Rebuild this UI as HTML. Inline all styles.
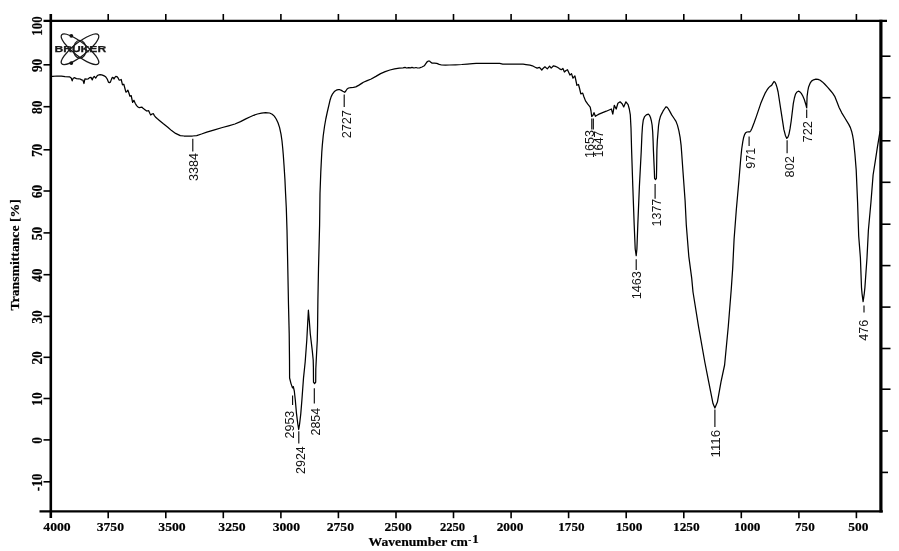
<!DOCTYPE html>
<html lang="en"><head><meta charset="utf-8"><title>FTIR spectrum</title>
<style>html,body{margin:0;padding:0;background:#fff}svg{display:block}</style></head>
<body>
<svg width="899" height="551" viewBox="0 0 899 551">
<rect width="899" height="551" fill="#fff"/>
<g stroke="#000" fill="none" stroke-linecap="butt">
<line x1="43.5" y1="20.8" x2="887" y2="20.8" stroke-width="2.2"/>
<line x1="39.5" y1="511.3" x2="882.8" y2="511.3" stroke-width="2.2"/>
<line x1="50.8" y1="14" x2="50.8" y2="518" stroke-width="2.6"/>
<line x1="880.9" y1="19.7" x2="880.9" y2="512.4" stroke-width="3.2"/>
<line x1="108.2" y1="14" x2="108.2" y2="20.8" stroke-width="1.6"/>
<line x1="108.2" y1="511.3" x2="108.2" y2="518.2" stroke-width="1.6"/>
<line x1="165.8" y1="14" x2="165.8" y2="20.8" stroke-width="1.6"/>
<line x1="165.8" y1="511.3" x2="165.8" y2="518.2" stroke-width="1.6"/>
<line x1="223.3" y1="14" x2="223.3" y2="20.8" stroke-width="1.6"/>
<line x1="223.3" y1="511.3" x2="223.3" y2="518.2" stroke-width="1.6"/>
<line x1="280.9" y1="14" x2="280.9" y2="20.8" stroke-width="1.6"/>
<line x1="280.9" y1="511.3" x2="280.9" y2="518.2" stroke-width="1.6"/>
<line x1="338.4" y1="14" x2="338.4" y2="20.8" stroke-width="1.6"/>
<line x1="338.4" y1="511.3" x2="338.4" y2="518.2" stroke-width="1.6"/>
<line x1="396.0" y1="14" x2="396.0" y2="20.8" stroke-width="1.6"/>
<line x1="396.0" y1="511.3" x2="396.0" y2="518.2" stroke-width="1.6"/>
<line x1="453.5" y1="14" x2="453.5" y2="20.8" stroke-width="1.6"/>
<line x1="453.5" y1="511.3" x2="453.5" y2="518.2" stroke-width="1.6"/>
<line x1="511.1" y1="14" x2="511.1" y2="20.8" stroke-width="1.6"/>
<line x1="511.1" y1="511.3" x2="511.1" y2="518.2" stroke-width="1.6"/>
<line x1="568.6" y1="14" x2="568.6" y2="20.8" stroke-width="1.6"/>
<line x1="568.6" y1="511.3" x2="568.6" y2="518.2" stroke-width="1.6"/>
<line x1="626.2" y1="14" x2="626.2" y2="20.8" stroke-width="1.6"/>
<line x1="626.2" y1="511.3" x2="626.2" y2="518.2" stroke-width="1.6"/>
<line x1="683.8" y1="14" x2="683.8" y2="20.8" stroke-width="1.6"/>
<line x1="683.8" y1="511.3" x2="683.8" y2="518.2" stroke-width="1.6"/>
<line x1="741.3" y1="14" x2="741.3" y2="20.8" stroke-width="1.6"/>
<line x1="741.3" y1="511.3" x2="741.3" y2="518.2" stroke-width="1.6"/>
<line x1="798.9" y1="14" x2="798.9" y2="20.8" stroke-width="1.6"/>
<line x1="798.9" y1="511.3" x2="798.9" y2="518.2" stroke-width="1.6"/>
<line x1="856.4" y1="14" x2="856.4" y2="20.8" stroke-width="1.6"/>
<line x1="856.4" y1="511.3" x2="856.4" y2="518.2" stroke-width="1.6"/>
<line x1="43.5" y1="64.8" x2="50.8" y2="64.8" stroke-width="1.6"/>
<line x1="43.5" y1="106.7" x2="50.8" y2="106.7" stroke-width="1.6"/>
<line x1="43.5" y1="149.8" x2="50.8" y2="149.8" stroke-width="1.6"/>
<line x1="43.5" y1="191" x2="50.8" y2="191" stroke-width="1.6"/>
<line x1="43.5" y1="232.9" x2="50.8" y2="232.9" stroke-width="1.6"/>
<line x1="43.5" y1="274.7" x2="50.8" y2="274.7" stroke-width="1.6"/>
<line x1="43.5" y1="316.4" x2="50.8" y2="316.4" stroke-width="1.6"/>
<line x1="43.5" y1="357.3" x2="50.8" y2="357.3" stroke-width="1.6"/>
<line x1="43.5" y1="398.5" x2="50.8" y2="398.5" stroke-width="1.6"/>
<line x1="43.5" y1="439.9" x2="50.8" y2="439.9" stroke-width="1.6"/>
<line x1="43.5" y1="481.8" x2="50.8" y2="481.8" stroke-width="1.6"/>
<line x1="880.9" y1="56.2" x2="890.5" y2="56.2" stroke-width="1.6"/>
<line x1="880.9" y1="97.7" x2="890.5" y2="97.7" stroke-width="1.6"/>
<line x1="880.9" y1="140.8" x2="890.5" y2="140.8" stroke-width="1.6"/>
<line x1="880.9" y1="182.3" x2="890.5" y2="182.3" stroke-width="1.6"/>
<line x1="880.9" y1="224.2" x2="890.5" y2="224.2" stroke-width="1.6"/>
<line x1="880.9" y1="265.6" x2="890.5" y2="265.6" stroke-width="1.6"/>
<line x1="880.9" y1="307.1" x2="890.5" y2="307.1" stroke-width="1.6"/>
<line x1="880.9" y1="348.5" x2="890.5" y2="348.5" stroke-width="1.6"/>
<line x1="880.9" y1="389.2" x2="890.5" y2="389.2" stroke-width="1.6"/>
<line x1="880.9" y1="431" x2="888" y2="431" stroke-width="1.6"/>
<line x1="880.9" y1="472.4" x2="888" y2="472.4" stroke-width="1.6"/>
</g>
<g font-family="'Liberation Serif', serif" font-weight="bold" font-size="13.4" fill="#000" stroke="#000" stroke-width="0.2">
<text x="43.3" y="531.1" textLength="27.4" lengthAdjust="spacingAndGlyphs">4000</text>
<text x="96.7" y="531.1" textLength="27.3" lengthAdjust="spacingAndGlyphs">3750</text>
<text x="158.3" y="531.1" textLength="27.4" lengthAdjust="spacingAndGlyphs">3500</text>
<text x="218.3" y="531.1" textLength="27.4" lengthAdjust="spacingAndGlyphs">3250</text>
<text x="272.7" y="531.1" textLength="27.3" lengthAdjust="spacingAndGlyphs">3000</text>
<text x="326.7" y="531.1" textLength="27.3" lengthAdjust="spacingAndGlyphs">2750</text>
<text x="384.6" y="531.1" textLength="27.1" lengthAdjust="spacingAndGlyphs">2500</text>
<text x="439.9" y="531.1" textLength="25.2" lengthAdjust="spacingAndGlyphs">2250</text>
<text x="496.7" y="531.1" textLength="26.7" lengthAdjust="spacingAndGlyphs">2000</text>
<text x="558.3" y="531.1" textLength="26.2" lengthAdjust="spacingAndGlyphs">1750</text>
<text x="615.7" y="531.1" textLength="26.7" lengthAdjust="spacingAndGlyphs">1500</text>
<text x="673.0" y="531.1" textLength="26.7" lengthAdjust="spacingAndGlyphs">1250</text>
<text x="734.0" y="531.1" textLength="26.4" lengthAdjust="spacingAndGlyphs">1000</text>
<text x="795.0" y="531.1" textLength="19.7" lengthAdjust="spacingAndGlyphs">750</text>
<text x="848.3" y="531.1" textLength="20.1" lengthAdjust="spacingAndGlyphs">500</text>
<text transform="translate(41.7,35.7) rotate(-90)" font-size="13.8" textLength="19.4" lengthAdjust="spacingAndGlyphs">100</text>
<text transform="translate(41.7,72.1) rotate(-90)" font-size="13.8" textLength="13.4" lengthAdjust="spacingAndGlyphs">90</text>
<text transform="translate(41.7,114.0) rotate(-90)" font-size="13.8" textLength="13.4" lengthAdjust="spacingAndGlyphs">80</text>
<text transform="translate(41.7,157.1) rotate(-90)" font-size="13.8" textLength="13.4" lengthAdjust="spacingAndGlyphs">70</text>
<text transform="translate(41.7,198.3) rotate(-90)" font-size="13.8" textLength="13.4" lengthAdjust="spacingAndGlyphs">60</text>
<text transform="translate(41.7,240.2) rotate(-90)" font-size="13.8" textLength="13.4" lengthAdjust="spacingAndGlyphs">50</text>
<text transform="translate(41.7,282.0) rotate(-90)" font-size="13.8" textLength="13.4" lengthAdjust="spacingAndGlyphs">40</text>
<text transform="translate(41.7,323.7) rotate(-90)" font-size="13.8" textLength="13.4" lengthAdjust="spacingAndGlyphs">30</text>
<text transform="translate(41.7,364.6) rotate(-90)" font-size="13.8" textLength="13.4" lengthAdjust="spacingAndGlyphs">20</text>
<text transform="translate(41.7,405.8) rotate(-90)" font-size="13.8" textLength="13.4" lengthAdjust="spacingAndGlyphs">10</text>
<text transform="translate(41.7,443.8) rotate(-90)" font-size="13.8" textLength="6.6" lengthAdjust="spacingAndGlyphs">0</text>
<text transform="translate(41.7,491.2) rotate(-90)" font-size="13.8" textLength="17.6" lengthAdjust="spacingAndGlyphs">-10</text>
</g>
<g font-family="'Liberation Serif', serif" font-weight="bold" font-size="13" fill="#000" stroke="#000" stroke-width="0.2">
<text transform="translate(18.7,310.5) rotate(-90)" textLength="111.3" lengthAdjust="spacingAndGlyphs">Transmittance [%]</text>
<text x="368.6" y="546.2" textLength="99.3" lengthAdjust="spacingAndGlyphs">Wavenumber cm</text>
<text x="468.3" y="543.2" font-size="9">-</text>
<text x="472.2" y="543.2" font-size="13">1</text>
</g>
<g fill="none" stroke="#1a1a1a" stroke-width="1.3">
<ellipse cx="80" cy="49.3" rx="23.3" ry="6.6" transform="rotate(38 80 49.3)"/>
<ellipse cx="80" cy="49.3" rx="23.3" ry="6.6" transform="rotate(-38 80 49.3)"/>
<ellipse cx="79.8" cy="49.3" rx="6.4" ry="8.9"/>
</g>
<circle cx="71.3" cy="35.8" r="1.9" fill="#111"/><circle cx="71.3" cy="63.1" r="1.9" fill="#111"/>
<text x="54.4" y="52.3" font-family="'Liberation Sans', sans-serif" font-weight="bold" font-size="8.4" textLength="51.8" lengthAdjust="spacingAndGlyphs" fill="#1a1a1a" stroke="#1a1a1a" stroke-width="0.25" >BRUKER</text>
<polyline points="51.5,76.4 52.7,76.4 57.0,76.0 61.4,76.1 65.0,76.6 69.5,76.8 71.2,78.0 72.2,80.8 73.0,78.6 74.2,77.7 76.5,78.6 78.9,78.8 80.2,79.0 81.6,79.9 82.9,80.0 84.0,83.5 84.9,78.8 86.5,79.2 88.3,78.8 89.6,77.6 91.0,77.4 92.3,79.9 93.2,77.5 94.3,76.4 95.7,78.1 97.0,76.0 98.3,75.0 100.0,74.6 101.7,74.8 103.7,75.6 105.7,76.8 107.2,79.0 108.4,82.1 109.4,82.6 110.4,82.1 111.4,79.4 112.4,77.4 113.2,77.6 114.0,79.0 114.9,77.4 115.8,76.4 116.8,76.6 117.8,77.4 119.1,80.1 120.2,80.0 121.2,79.5 122.5,84.8 123.8,84.2 124.8,88.0 125.9,92.2 126.9,91.4 127.9,90.2 128.9,93.0 129.9,96.2 131.2,95.6 131.9,99.0 132.6,102.3 133.9,100.3 135.2,103.2 136.6,105.6 138.0,107.0 139.3,107.7 142.0,107.2 143.4,108.6 144.6,109.4 146.7,111.0 148.7,110.7 149.8,113.2 150.7,115.0 152.0,114.0 153.4,113.7 154.4,115.6 155.4,117.0 157.4,118.8 159.4,120.4 163.4,123.8 167.8,127.3 171.6,130.6 175.6,133.4 180.3,135.6 184.0,136.0 188.1,136.0 192.5,136.0 196.7,135.6 201.5,134.0 206.8,132.1 214.5,129.8 222.4,127.5 228.6,125.8 234.9,124.0 240.5,121.6 245.8,118.9 249.8,117.0 253.7,115.3 257.5,114.0 261.5,113.1 265.6,112.7 269.6,113.0 272.2,114.2 274.3,116.1 276.2,119.0 278.0,122.8 279.6,127.6 281.0,134.2 282.0,141.0 282.7,148.0 283.3,155.0 284.0,165.0 284.9,179.0 285.6,194.0 286.3,208.0 287.0,230.0 287.8,268.6 288.5,305.0 289.2,333.4 289.5,360.0 289.6,378.0 291.0,383.6 292.5,387.9 293.3,386.6 294.3,391.0 295.3,400.0 296.5,413.6 297.8,424.0 298.7,429.5 299.6,424.0 300.8,413.6 301.9,400.0 303.5,378.1 305.2,361.8 306.8,340.0 307.6,325.0 308.4,310.2 309.4,322.0 310.3,334.0 312.3,350.9 313.2,360.0 313.4,367.2 313.5,382.2 314.6,383.7 315.7,382.2 315.8,369.0 316.6,353.0 317.3,340.0 317.6,325.0 317.9,300.0 318.5,268.6 319.6,225.0 320.0,193.6 320.8,171.8 321.8,152.0 322.3,145.4 323.2,136.0 324.5,126.5 325.8,119.0 327.3,112.0 330.0,100.3 331.2,96.6 332.6,93.8 334.3,91.6 336.3,90.2 338.2,89.7 339.9,89.7 341.4,90.4 342.8,91.3 344.7,92.3 345.8,91.0 347.1,89.0 348.6,88.0 350.8,87.6 353.4,87.3 355.8,86.9 358.6,85.4 361.7,83.4 363.4,82.3 367.2,80.6 371.2,79.0 375.9,76.4 380.6,73.6 385.2,71.6 389.9,70.0 394.6,68.9 399.3,68.1 403.0,67.8 405.0,67.4 406.5,68.0 408.7,67.6 410.5,67.9 412.0,67.3 414.0,68.0 416.0,67.5 417.6,68.0 419.6,67.8 422.0,67.0 424.3,65.8 425.8,63.6 427.4,61.5 428.5,61.0 429.7,61.1 430.8,62.3 432.1,63.1 434.4,63.2 436.8,63.4 439.2,64.3 441.5,65.0 445.4,65.1 449.3,65.0 455.5,64.8 461.7,64.5 467.2,64.1 472.7,63.7 476.2,63.4 488.0,63.3 499.7,63.4 502.8,64.2 513.0,64.2 523.1,64.2 526.0,64.6 528.0,64.9 530.0,65.2 532.4,65.8 534.7,67.0 537.1,68.1 539.5,67.3 541.8,70.0 543.3,68.2 544.9,66.8 547.3,68.9 549.6,66.2 551.2,68.1 553.5,65.8 555.4,66.4 557.4,67.3 559.3,68.6 561.3,69.7 562.9,68.4 564.4,72.0 566.0,70.5 567.5,69.7 569.9,75.1 571.5,73.6 573.0,78.2 574.9,75.9 575.8,80.0 576.9,85.3 578.5,84.5 579.7,89.0 580.8,93.8 582.7,93.1 584.0,97.0 585.5,100.9 587.8,104.2 590.2,107.1 591.0,111.0 591.7,116.5 592.8,115.6 594.0,112.7 595.4,116.3 597.0,115.2 599.0,114.1 602.6,112.6 606.3,111.2 611.4,109.0 612.8,114.1 614.3,105.4 616.2,109.0 617.9,103.2 620.1,101.8 622.3,104.0 623.7,106.9 625.9,101.8 628.1,104.7 629.3,109.0 630.3,114.9 631.0,128.0 631.6,150.0 632.8,186.3 634.2,225.0 635.2,249.0 636.2,255.6 636.9,249.0 637.8,225.0 639.4,186.3 641.2,152.0 641.9,135.2 642.5,126.0 643.3,119.9 644.6,116.6 646.3,114.9 648.4,114.1 649.6,115.4 650.6,117.8 651.4,121.0 652.1,125.0 652.7,132.0 653.1,141.0 653.4,150.0 654.3,170.0 654.6,178.4 655.5,179.5 656.4,178.4 656.6,170.0 656.9,150.0 657.3,141.0 657.9,133.7 658.5,126.0 659.3,120.7 660.3,116.8 661.5,114.1 663.0,111.2 664.4,109.0 665.9,106.9 667.0,107.2 668.0,108.3 669.8,111.4 671.7,114.9 673.8,118.0 676.0,121.4 677.5,125.4 678.9,130.8 680.1,137.4 681.1,145.4 681.6,152.0 683.0,171.8 685.1,200.8 686.3,225.0 688.8,256.3 691.7,278.1 693.0,292.0 698.5,326.3 704.8,362.0 708.7,381.8 713.0,403.6 714.9,408.0 717.4,402.1 721.0,381.8 724.6,365.0 728.3,326.3 731.2,290.0 732.7,268.1 734.1,239.0 736.3,210.0 738.9,180.8 740.7,159.0 741.7,149.0 742.8,141.6 743.7,137.2 744.7,134.3 745.7,132.7 746.9,132.0 748.4,131.9 749.8,131.8 750.9,130.6 752.0,128.3 754.1,122.8 756.3,116.6 760.7,103.6 762.9,98.2 765.0,93.4 766.9,90.2 768.7,87.6 770.2,86.3 771.6,85.4 772.8,83.4 774.0,81.5 775.0,82.2 775.9,84.0 777.0,87.4 778.1,92.0 781.0,110.8 783.9,129.7 785.4,135.4 786.8,138.4 787.9,137.2 789.0,134.1 790.1,128.4 791.2,121.0 793.3,103.6 794.4,98.0 795.5,94.1 796.9,92.0 798.4,91.2 799.9,91.8 801.3,93.4 802.8,96.0 804.2,99.2 806.0,105.0 806.7,107.9 806.9,102.0 807.1,96.3 807.8,91.0 808.6,86.9 810.0,83.4 811.5,81.1 813.6,79.8 815.9,79.2 818.1,79.4 820.2,80.3 822.4,81.9 824.6,84.0 827.5,87.2 830.4,90.5 832.6,93.2 834.7,96.3 837.0,102.0 839.1,107.4 841.6,112.6 844.9,118.0 848.9,124.6 850.4,127.6 851.6,131.2 852.6,135.4 853.5,140.5 854.9,153.7 856.2,170.0 857.6,202.7 858.7,236.0 860.4,257.7 861.5,287.6 862.0,293.3 863.1,301.6 864.3,293.3 864.9,287.6 867.0,257.7 868.4,230.0 870.9,202.7 873.1,175.0 875.4,160.4 877.4,147.1 879.4,135.2 880.2,131.0" fill="none" stroke="#000" stroke-width="1.25" stroke-linejoin="round"/>
<g stroke="#000" stroke-width="1.1">
<line x1="192.8" y1="138.8" x2="192.8" y2="151.6"/>
<line x1="292.6" y1="395.4" x2="292.6" y2="404.9"/>
<line x1="298.8" y1="431.2" x2="298.8" y2="443.4"/>
<line x1="314.3" y1="388.2" x2="314.3" y2="403.4"/>
<line x1="344.2" y1="94.5" x2="344.2" y2="106.9"/>
<line x1="591.8" y1="118.5" x2="591.8" y2="129.4"/>
<line x1="593.3" y1="118.5" x2="593.3" y2="129.4"/>
<line x1="636.2" y1="259.2" x2="636.2" y2="270.1"/>
<line x1="655.1" y1="184.1" x2="655.1" y2="198.7"/>
<line x1="714.9" y1="409.6" x2="714.9" y2="426.9"/>
<line x1="749.1" y1="136.5" x2="749.1" y2="146.0"/>
<line x1="787.1" y1="140.2" x2="787.1" y2="153.2"/>
<line x1="806.7" y1="109.4" x2="806.7" y2="118.1"/>
<line x1="864.0" y1="305.6" x2="864.0" y2="312.4"/>
</g>
<g font-family="'Liberation Sans', sans-serif" font-size="12.8" fill="#111">
<text transform="translate(198.3,180.9) rotate(-90)" textLength="28.0" lengthAdjust="spacingAndGlyphs">3384</text>
<text transform="translate(293.8,438.4) rotate(-90)" textLength="27.7" lengthAdjust="spacingAndGlyphs">2953</text>
<text transform="translate(304.8,473.9) rotate(-90)" textLength="27.7" lengthAdjust="spacingAndGlyphs">2924</text>
<text transform="translate(319.9,435.5) rotate(-90)" textLength="27.7" lengthAdjust="spacingAndGlyphs">2854</text>
<text transform="translate(350.9,138.3) rotate(-90)" textLength="28.2" lengthAdjust="spacingAndGlyphs">2727</text>
<text transform="translate(594.4,157.9) rotate(-90)" textLength="27.8" lengthAdjust="spacingAndGlyphs">1653</text>
<text transform="translate(602.6,157.2) rotate(-90)" textLength="26.4" lengthAdjust="spacingAndGlyphs">1647</text>
<text transform="translate(641.4,299.3) rotate(-90)" textLength="28.2" lengthAdjust="spacingAndGlyphs">1463</text>
<text transform="translate(661.4,226.4) rotate(-90)" textLength="27.7" lengthAdjust="spacingAndGlyphs">1377</text>
<text transform="translate(719.6,457.5) rotate(-90)" textLength="27.7" lengthAdjust="spacingAndGlyphs">1116</text>
<text transform="translate(755.0,168.7) rotate(-90)" textLength="20.8" lengthAdjust="spacingAndGlyphs">971</text>
<text transform="translate(793.8,177.4) rotate(-90)" textLength="21.2" lengthAdjust="spacingAndGlyphs">802</text>
<text transform="translate(812.0,142.5) rotate(-90)" textLength="21.4" lengthAdjust="spacingAndGlyphs">722</text>
<text transform="translate(868.4,340.8) rotate(-90)" textLength="21.0" lengthAdjust="spacingAndGlyphs">476</text>
</g>
</svg>
</body></html>
